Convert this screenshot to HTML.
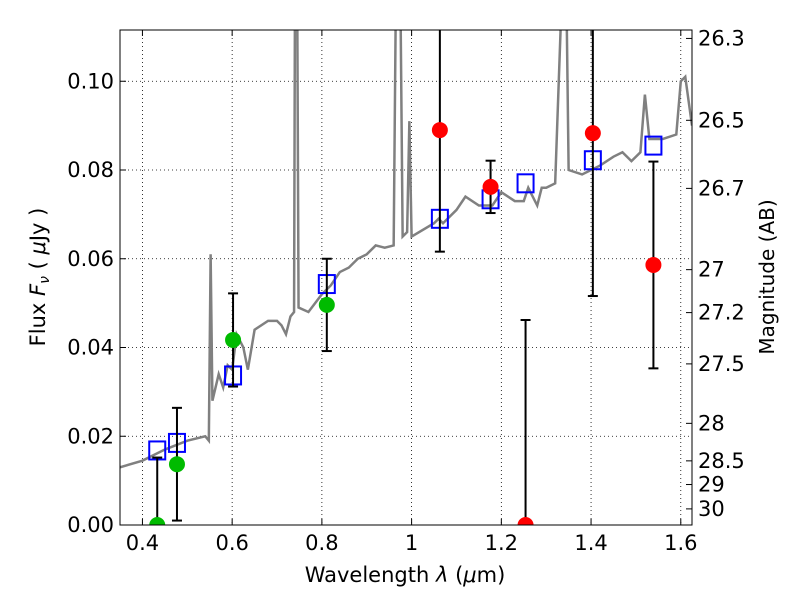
<!DOCTYPE html>
<html><head><meta charset="utf-8"><style>
body{margin:0;background:#fff}
text{font-family:"DejaVu Sans","Liberation Sans",sans-serif;fill:#000}
</style></head><body>
<svg id="chart" width="800" height="600" xmlns="http://www.w3.org/2000/svg">
<defs><clipPath id="clip"><rect x="120" y="30" width="572" height="495"/></clipPath></defs>
<g id="grid"></g>
<g id="plot" clip-path="url(#clip)"></g>
<g id="markers" clip-path="url(#clip)"></g>
<rect x="0" y="525.5" width="800" height="75" fill="#fff"/>
<rect x="120" y="30" width="572" height="495" fill="none" stroke="#000" stroke-width="1"/>
<g id="axes"></g>
<text x="405" y="582" font-size="21" text-anchor="middle">Wavelength  <tspan font-style="italic">λ</tspan> (<tspan font-style="italic">μ</tspan>m)</text>
<text transform="translate(45,277) rotate(-90)" font-size="21" text-anchor="middle">Flux  <tspan font-style="italic">F<tspan font-size="14" dy="4">ν</tspan></tspan><tspan dy="-4">  ( </tspan><tspan font-style="italic">μ</tspan>Jy )</text>
<text transform="translate(774,277) rotate(-90)" font-size="20" text-anchor="middle">Magnitude (AB)</text>
</svg>
<script>
const specX=[0.35,0.40,0.45,0.50,0.54,0.548,0.552,0.556,0.57,0.58,0.59,0.60,0.61,0.625,0.635,0.65,0.68,0.70,0.71,0.72,0.73,0.738,0.740,0.745,0.748,0.77,0.80,0.82,0.84,0.86,0.88,0.90,0.92,0.94,0.96,0.965,0.975,0.98,0.99,0.995,1.0,1.05,1.06,1.07,1.10,1.12,1.15,1.18,1.20,1.23,1.25,1.26,1.28,1.29,1.30,1.32,1.335,1.345,1.35,1.38,1.40,1.42,1.45,1.47,1.49,1.51,1.52,1.53,1.56,1.59,1.60,1.61,1.625];
const specY=[0.013,0.0145,0.017,0.019,0.020,0.019,0.061,0.028,0.034,0.031,0.036,0.035,0.043,0.040,0.035,0.044,0.046,0.046,0.045,0.043,0.047,0.048,0.12,0.12,0.049,0.048,0.052,0.054,0.057,0.058,0.060,0.061,0.063,0.0625,0.063,0.12,0.12,0.065,0.066,0.091,0.065,0.068,0.069,0.068,0.071,0.074,0.072,0.072,0.075,0.073,0.073,0.076,0.072,0.076,0.076,0.077,0.12,0.12,0.080,0.079,0.080,0.081,0.083,0.084,0.082,0.084,0.097,0.087,0.087,0.088,0.100,0.101,0.090];
const modelX=[0.433,0.477,0.602,0.811,1.063,1.176,1.254,1.404,1.539];
const modelY=[0.0168,0.0185,0.0337,0.0543,0.069,0.0734,0.077,0.0822,0.0855];
const obsX=[0.433,0.477,0.602,0.811,1.063,1.176,1.254,1.404,1.539];
const obsY=[0,0.0137,0.0417,0.0496,0.089,0.0762,0,0.0883,0.0586];
const obsErr=[0.0152,0.0127,0.0105,0.0104,0.0274,0.0059,0.0462,0.0367,0.0233];
const obsColor=['#00bb00','#00bb00','#00bb00','#00bb00','red','red','red','red','red'];
const xTicks=[0.4,0.6,0.8,1.0,1.2,1.4,1.6];
const xTickLabels=['0.4','0.6','0.8','1','1.2','1.4','1.6'];
const yTicks=[0,0.02,0.04,0.06,0.08,0.10];
const yTickLabels=['0.00','0.02','0.04','0.06','0.08','0.10'];
const magTicks=[26.3,26.5,26.7,27,27.2,27.5,28,28.5,29,30];

const X0=0.35,X1=1.625,Y0=0,Y1=0.11155,L=120,R=692,T=30,B=525;
const sx=v=>L+(v-X0)/(X1-X0)*(R-L);
const sy=v=>B-(v-Y0)/(Y1-Y0)*(B-T);
const NS='http://www.w3.org/2000/svg';
function mk(tag,parent,attrs){const e=document.createElementNS(NS,tag);for(const k in attrs)e.setAttribute(k,attrs[k]);document.getElementById(parent).appendChild(e);return e;}
xTicks.forEach((t,i)=>{
 const g=mk('line','grid',{x1:sx(t),x2:sx(t),y1:T,y2:B,stroke:'#000','stroke-width':0.8,'stroke-dasharray':'1,3'});
 
 
 mk('line','axes',{x1:sx(t),x2:sx(t),y1:B,y2:B-6,stroke:'#000'});
 mk('line','axes',{x1:sx(t),x2:sx(t),y1:T,y2:T+6,stroke:'#000'});
 const tx=mk('text','axes',{x:sx(t),y:B+25,'font-size':21,'text-anchor':'middle'});tx.textContent=xTickLabels[i];
 
 
});
yTicks.forEach((t,i)=>{
 const g=mk('line','grid',{x1:L,x2:R,y1:sy(t),y2:sy(t),stroke:'#000','stroke-width':0.8,'stroke-dasharray':'1,3'});
 
 
 mk('line','axes',{x1:L,x2:L+6,y1:sy(t),y2:sy(t),stroke:'#000'});
 const tx=mk('text','axes',{x:L-6,y:sy(t)+7,'font-size':21,'text-anchor':'end'});tx.textContent=yTickLabels[i];
 
 
});
magTicks.forEach(m=>{
 const f=Math.pow(10,(23.9-m)/2.5);const y=sy(f);
 mk('line','axes',{x1:R,x2:R-6,y1:y,y2:y,stroke:'#000'});
 const tx=mk('text','axes',{x:R+6,y:y+7,'font-size':21});tx.textContent=String(m);
 
 
});
const p=mk('polyline','plot',{points:specX.map((x,i)=>sx(x)+','+sy(specY[i])).join(' '),fill:'none',stroke:'#808080','stroke-width':2.5});


modelX.forEach((x,i)=>{
 const r=mk('rect','plot',{x:sx(x)-8,y:sy(modelY[i])-9,width:16,height:18,fill:'none',stroke:'#0000ff','stroke-width':2});
 
 
});
obsX.forEach((x,i)=>{
 const cx=sx(x),lo=sy(Math.max(0,obsY[i]-obsErr[i])),hi=sy(obsY[i]+obsErr[i]);
 const l=mk('line','markers',{x1:cx,x2:cx,y1:lo,y2:Math.max(hi,T),stroke:'#000','stroke-width':2});
 
 
 if(obsY[i]-obsErr[i]>0)mk('line','markers',{x1:cx-5,x2:cx+5,y1:lo,y2:lo,stroke:'#000','stroke-width':2});
 if(hi>T)mk('line','markers',{x1:cx-5,x2:cx+5,y1:hi,y2:hi,stroke:'#000','stroke-width':2});
 const c=mk('circle','markers',{cx:cx,cy:sy(obsY[i]),r:8,fill:obsColor[i]});
 
 
});
</script>
</body></html>
